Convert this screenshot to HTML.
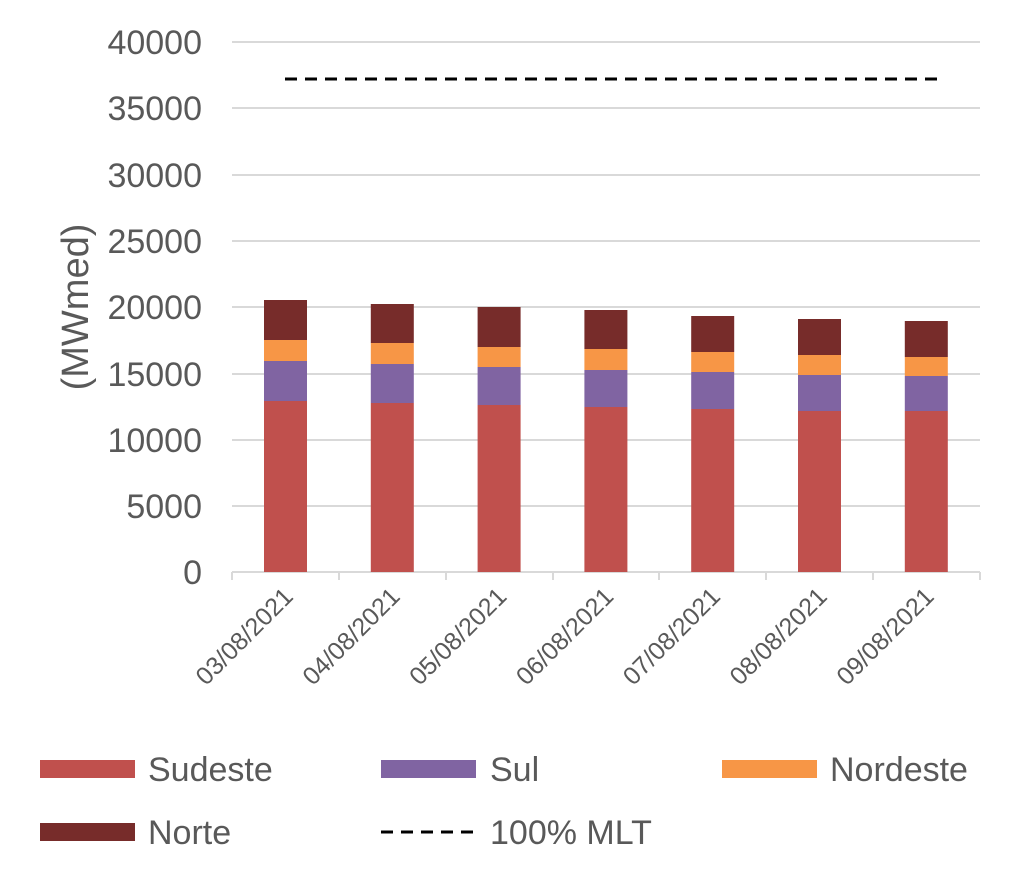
<!DOCTYPE html>
<html><head><meta charset="utf-8"><style>body{margin:0;background:#fff}</style></head><body>
<svg width="1024" height="872" xmlns="http://www.w3.org/2000/svg" font-family="Liberation Sans, sans-serif">
<g stroke="#d9d9d9" stroke-width="2">
<line x1="232" x2="980" y1="42" y2="42"/><line x1="232" x2="980" y1="108" y2="108"/>
<line x1="232" x2="980" y1="175" y2="175"/><line x1="232" x2="980" y1="241" y2="241"/>
<line x1="232" x2="980" y1="307" y2="307"/><line x1="232" x2="980" y1="374" y2="374"/>
<line x1="232" x2="980" y1="440" y2="440"/><line x1="232" x2="980" y1="506" y2="506"/>
<line x1="232" x2="980" y1="572" y2="572"/>
<line x1="232" x2="232" y1="572" y2="580"/><line x1="339" x2="339" y1="572" y2="580"/>
<line x1="446" x2="446" y1="572" y2="580"/><line x1="553" x2="553" y1="572" y2="580"/>
<line x1="659" x2="659" y1="572" y2="580"/><line x1="766" x2="766" y1="572" y2="580"/>
<line x1="873" x2="873" y1="572" y2="580"/><line x1="980" x2="980" y1="572" y2="580"/>
</g>
<g font-size="34" fill="#595959" text-anchor="end">
<text x="202" y="54">40000</text><text x="202" y="120">35000</text><text x="202" y="187">30000</text>
<text x="202" y="253">25000</text><text x="202" y="319">20000</text><text x="202" y="386">15000</text>
<text x="202" y="452">10000</text><text x="202" y="518">5000</text><text x="202" y="584">0</text>
</g>
<text transform="translate(88,307) rotate(-90)" font-size="38" fill="#595959" text-anchor="middle">(MWmed)</text>
<g id="bars"></g>
<line x1="285" x2="945" y1="79" y2="79" stroke="#000" stroke-width="3" stroke-dasharray="12,8"/>
<g font-size="25" fill="#595959" text-anchor="end" id="xl"></g>
<rect x="40" y="760" width="95" height="18" fill="#C0504D"/><text x="148" y="781" font-size="34" fill="#595959">Sudeste</text>
<rect x="381" y="760" width="95" height="18" fill="#8064A2"/><text x="490" y="781" font-size="34" fill="#595959">Sul</text>
<rect x="722" y="760" width="95" height="18" fill="#F79646"/><text x="830" y="781" font-size="34" fill="#595959">Nordeste</text>
<rect x="40" y="823" width="95" height="18" fill="#772C2A"/><text x="148" y="844" font-size="34" fill="#595959">Norte</text>
<line x1="381" x2="480" y1="832" y2="832" stroke="#000" stroke-width="3" stroke-dasharray="12,8"/><text x="490" y="844" font-size="34" fill="#595959">100% MLT</text>
</svg>
<script>
var d=[[401,361,340,300],[403,364,343,304],[405,367,347,307],[407,370,349,310],[409,372,352,316],[411,375,355,319],[411,376,357,321]];
var c=["#C0504D","#8064A2","#F79646","#772C2A"];var s="",t="";
d.forEach(function(b,i){var x=264+i*106.8;var prev=572;
b.forEach(function(y,j){s+='<rect x="'+x+'" y="'+y+'" width="43" height="'+(prev-y)+'" fill="'+c[j]+'"/>';prev=y;});
var cx=x+21.5+9;t+='<text transform="translate('+cx+',598) rotate(-45)">0'+(3+i)+'/08/2021</text>';});
document.getElementById("bars").innerHTML=s;document.getElementById("xl").innerHTML=t;
</script>
</body></html>
